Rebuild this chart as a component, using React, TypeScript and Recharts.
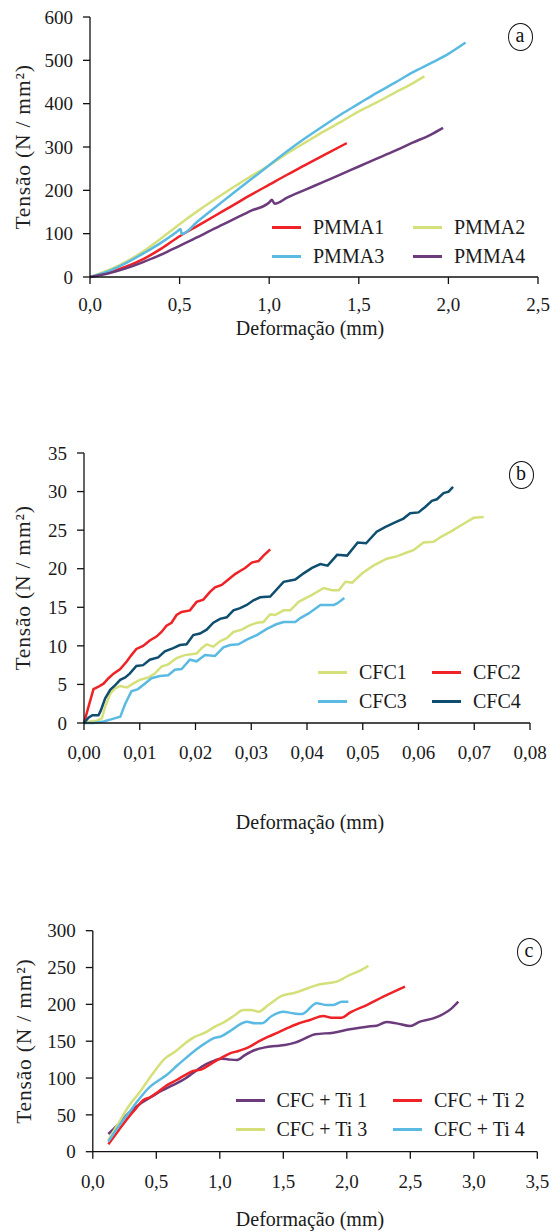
import React from 'react';
import { LineChart, Line, XAxis, YAxis, Legend, Label } from 'recharts';

// ---------- Chart (a) data ----------
const PMMA1 = [
  { x: 0, y: 0 }, { x: 0.1, y: 10 }, { x: 0.2, y: 24 }, { x: 0.3, y: 42 }, { x: 0.4, y: 66 },
  { x: 0.5, y: 94 }, { x: 0.6, y: 118 }, { x: 0.7, y: 142 }, { x: 0.8, y: 166 }, { x: 0.9, y: 190 },
  { x: 1.0, y: 213 }, { x: 1.1, y: 236 }, { x: 1.2, y: 258 }, { x: 1.3, y: 280 }, { x: 1.433, y: 309 },
];
const PMMA2 = [
  { x: 0, y: 0 }, { x: 0.1, y: 15 }, { x: 0.2, y: 35 }, { x: 0.3, y: 60 }, { x: 0.4, y: 90 },
  { x: 0.5, y: 122 }, { x: 0.6, y: 152 }, { x: 0.7, y: 180 }, { x: 0.8, y: 207 }, { x: 0.9, y: 233 },
  { x: 1.0, y: 258 }, { x: 1.1, y: 285 }, { x: 1.2, y: 310 }, { x: 1.3, y: 335 }, { x: 1.4, y: 358 },
  { x: 1.5, y: 382 }, { x: 1.6, y: 403 }, { x: 1.7, y: 425 }, { x: 1.8, y: 447 }, { x: 1.866, y: 463 },
];
const PMMA3 = [
  { x: 0, y: 0 }, { x: 0.1, y: 13 }, { x: 0.2, y: 32 }, { x: 0.3, y: 55 }, { x: 0.4, y: 80 },
  { x: 0.49, y: 106 }, { x: 0.505, y: 111 }, { x: 0.512, y: 99 }, { x: 0.6, y: 128 }, { x: 0.7, y: 161 },
  { x: 0.8, y: 194 }, { x: 0.9, y: 226 }, { x: 1.0, y: 258 }, { x: 1.1, y: 290 }, { x: 1.2, y: 320 },
  { x: 1.3, y: 348 }, { x: 1.4, y: 375 }, { x: 1.5, y: 400 }, { x: 1.6, y: 425 }, { x: 1.7, y: 448 },
  { x: 1.8, y: 472 }, { x: 1.9, y: 493 }, { x: 2.0, y: 515 }, { x: 2.096, y: 541 },
];
const PMMA4 = [
  { x: 0, y: 0 }, { x: 0.1, y: 8 }, { x: 0.2, y: 20 }, { x: 0.3, y: 35 }, { x: 0.4, y: 52 },
  { x: 0.5, y: 72 }, { x: 0.6, y: 92 }, { x: 0.7, y: 113 }, { x: 0.8, y: 133 }, { x: 0.9, y: 153 },
  { x: 1.0, y: 172 }, { x: 1.015, y: 178 }, { x: 1.03, y: 169 }, { x: 1.1, y: 183 }, { x: 1.2, y: 201 },
  { x: 1.3, y: 219 }, { x: 1.4, y: 237 }, { x: 1.5, y: 255 }, { x: 1.6, y: 273 }, { x: 1.7, y: 291 },
  { x: 1.8, y: 310 }, { x: 1.9, y: 328 }, { x: 1.97, y: 344 },
];
const TICKS_A_X = [0, 0.5, 1.0, 1.5, 2.0, 2.5];
const TICKS_A_Y = [0, 100, 200, 300, 400, 500, 600];

// ---------- Chart (b) data (x in mm) ----------
const CFC1 = [
  { x: 0, y: 0 }, { x: 0.0011, y: 0.2 }, { x: 0.0023, y: 0.3 }, { x: 0.0032, y: 0.6 }, { x: 0.0038, y: 2.1 },
  { x: 0.0047, y: 3.8 }, { x: 0.0056, y: 4.5 }, { x: 0.0065, y: 4.8 }, { x: 0.0077, y: 4.6 }, { x: 0.0088, y: 5.1 },
  { x: 0.0100, y: 5.6 }, { x: 0.0115, y: 5.9 }, { x: 0.0127, y: 6.4 }, { x: 0.0139, y: 7.3 }, { x: 0.0151, y: 7.6 },
  { x: 0.0166, y: 8.4 }, { x: 0.0181, y: 8.8 }, { x: 0.0202, y: 9.0 }, { x: 0.0211, y: 9.7 }, { x: 0.0220, y: 10.2 },
  { x: 0.0232, y: 9.9 }, { x: 0.0244, y: 10.6 }, { x: 0.0256, y: 11.0 }, { x: 0.0268, y: 11.8 }, { x: 0.0283, y: 12.1 },
  { x: 0.0295, y: 12.6 }, { x: 0.0310, y: 13.0 }, { x: 0.0322, y: 13.1 }, { x: 0.0334, y: 14.1 }, { x: 0.0343, y: 14.0 },
  { x: 0.0358, y: 14.6 }, { x: 0.0370, y: 14.6 }, { x: 0.0385, y: 15.7 }, { x: 0.0409, y: 16.6 }, { x: 0.0430, y: 17.5 },
  { x: 0.0445, y: 17.2 }, { x: 0.0457, y: 17.2 }, { x: 0.0469, y: 18.3 }, { x: 0.0481, y: 18.2 }, { x: 0.0499, y: 19.4 },
  { x: 0.0519, y: 20.4 }, { x: 0.0543, y: 21.3 }, { x: 0.0561, y: 21.6 }, { x: 0.0579, y: 22.1 }, { x: 0.0591, y: 22.4 },
  { x: 0.0609, y: 23.4 }, { x: 0.0627, y: 23.5 }, { x: 0.0642, y: 24.2 }, { x: 0.0660, y: 24.9 }, { x: 0.0678, y: 25.7 },
  { x: 0.0699, y: 26.6 }, { x: 0.0717, y: 26.7 },
];
const CFC2 = [
  { x: 0, y: 0 }, { x: 0.0008, y: 2.1 }, { x: 0.0017, y: 4.4 }, { x: 0.0026, y: 4.7 }, { x: 0.0035, y: 5.1 },
  { x: 0.0044, y: 5.8 }, { x: 0.0053, y: 6.4 }, { x: 0.0065, y: 7.0 }, { x: 0.0077, y: 8.0 }, { x: 0.0085, y: 8.8 },
  { x: 0.0094, y: 9.6 }, { x: 0.0106, y: 10.0 }, { x: 0.0118, y: 10.7 }, { x: 0.0130, y: 11.2 }, { x: 0.0139, y: 11.8 },
  { x: 0.0148, y: 12.6 }, { x: 0.0157, y: 13.0 }, { x: 0.0166, y: 14.0 }, { x: 0.0175, y: 14.4 }, { x: 0.0190, y: 14.6 },
  { x: 0.0202, y: 15.7 }, { x: 0.0214, y: 16.0 }, { x: 0.0226, y: 17.0 }, { x: 0.0235, y: 17.6 }, { x: 0.0247, y: 17.9 },
  { x: 0.0259, y: 18.6 }, { x: 0.0271, y: 19.3 }, { x: 0.0280, y: 19.7 }, { x: 0.0289, y: 20.1 }, { x: 0.0301, y: 20.8 },
  { x: 0.0313, y: 21.0 }, { x: 0.0322, y: 21.7 }, { x: 0.0334, y: 22.5 },
];
const CFC3 = [
  { x: 0, y: 0 }, { x: 0.0017, y: 0.0 }, { x: 0.0035, y: 0.2 }, { x: 0.0050, y: 0.5 }, { x: 0.0065, y: 0.8 },
  { x: 0.0074, y: 2.5 }, { x: 0.0085, y: 4.1 }, { x: 0.0097, y: 4.4 }, { x: 0.0109, y: 5.1 }, { x: 0.0121, y: 5.8 },
  { x: 0.0136, y: 6.1 }, { x: 0.0151, y: 6.2 }, { x: 0.0163, y: 6.9 }, { x: 0.0175, y: 7.0 }, { x: 0.0190, y: 8.2 },
  { x: 0.0202, y: 8.0 }, { x: 0.0217, y: 8.8 }, { x: 0.0235, y: 8.7 }, { x: 0.0250, y: 9.8 }, { x: 0.0262, y: 10.1 },
  { x: 0.0277, y: 10.2 }, { x: 0.0292, y: 10.8 }, { x: 0.0310, y: 11.4 }, { x: 0.0328, y: 12.2 }, { x: 0.0345, y: 12.8 },
  { x: 0.0358, y: 13.1 }, { x: 0.0379, y: 13.1 }, { x: 0.0388, y: 13.6 }, { x: 0.0403, y: 14.2 }, { x: 0.0424, y: 15.3 },
  { x: 0.0448, y: 15.3 }, { x: 0.0454, y: 15.5 }, { x: 0.0467, y: 16.2 },
];
const CFC4 = [
  { x: 0, y: 0 }, { x: 0.0008, y: 0.7 }, { x: 0.0015, y: 1.0 }, { x: 0.0026, y: 1.0 }, { x: 0.0030, y: 1.6 },
  { x: 0.0038, y: 3.2 }, { x: 0.0047, y: 4.3 }, { x: 0.0056, y: 4.9 }, { x: 0.0065, y: 5.6 }, { x: 0.0074, y: 5.9 },
  { x: 0.0082, y: 6.4 }, { x: 0.0094, y: 7.4 }, { x: 0.0106, y: 7.5 }, { x: 0.0118, y: 8.2 }, { x: 0.0133, y: 8.5 },
  { x: 0.0145, y: 9.3 }, { x: 0.0160, y: 9.7 }, { x: 0.0172, y: 10.1 }, { x: 0.0184, y: 10.2 }, { x: 0.0196, y: 11.4 },
  { x: 0.0208, y: 11.6 }, { x: 0.0220, y: 12.1 }, { x: 0.0232, y: 13.0 }, { x: 0.0244, y: 13.5 }, { x: 0.0256, y: 13.7 },
  { x: 0.0268, y: 14.6 }, { x: 0.0280, y: 14.9 }, { x: 0.0292, y: 15.3 }, { x: 0.0304, y: 15.9 }, { x: 0.0316, y: 16.3 },
  { x: 0.0334, y: 16.4 }, { x: 0.0358, y: 18.3 }, { x: 0.0379, y: 18.6 }, { x: 0.0394, y: 19.4 }, { x: 0.0409, y: 20.1 },
  { x: 0.0424, y: 20.6 }, { x: 0.0437, y: 20.4 }, { x: 0.0454, y: 21.8 }, { x: 0.0472, y: 21.7 }, { x: 0.0491, y: 23.4 },
  { x: 0.0506, y: 23.3 }, { x: 0.0525, y: 24.8 }, { x: 0.0540, y: 25.4 }, { x: 0.0558, y: 26.0 }, { x: 0.0573, y: 26.5 },
  { x: 0.0585, y: 27.2 }, { x: 0.0600, y: 27.3 }, { x: 0.0612, y: 28.0 }, { x: 0.0624, y: 28.8 }, { x: 0.0633, y: 29.0 },
  { x: 0.0645, y: 29.8 }, { x: 0.0654, y: 30.0 }, { x: 0.0662, y: 30.6 },
];
const TICKS_B_X = [0, 0.01, 0.02, 0.03, 0.04, 0.05, 0.06, 0.07, 0.08];
const TICKS_B_Y = [0, 5, 10, 15, 20, 25, 30, 35];

// ---------- Chart (c) data ----------
const TI1 = [
  { x: 0.122, y: 24 }, { x: 0.188, y: 35 }, { x: 0.254, y: 47.5 }, { x: 0.319, y: 58 }, { x: 0.385, y: 66.5 },
  { x: 0.464, y: 74.7 }, { x: 0.542, y: 82.8 }, { x: 0.621, y: 89.6 }, { x: 0.700, y: 96.4 }, { x: 0.778, y: 105.4 },
  { x: 0.857, y: 115.4 }, { x: 0.936, y: 122.2 }, { x: 1.015, y: 126.2 }, { x: 1.067, y: 125.3 }, { x: 1.133, y: 124.4 },
  { x: 1.198, y: 131.2 }, { x: 1.277, y: 138 }, { x: 1.356, y: 141.6 }, { x: 1.435, y: 143.4 }, { x: 1.513, y: 144.8 },
  { x: 1.592, y: 148 }, { x: 1.671, y: 153.8 }, { x: 1.750, y: 159.3 }, { x: 1.894, y: 161.6 }, { x: 2.025, y: 166.1 },
  { x: 2.157, y: 169.7 }, { x: 2.235, y: 171 }, { x: 2.314, y: 176 }, { x: 2.393, y: 174.2 }, { x: 2.498, y: 170.6 },
  { x: 2.576, y: 176.5 }, { x: 2.681, y: 181 }, { x: 2.760, y: 186.9 }, { x: 2.826, y: 194.6 }, { x: 2.878, y: 203.6 },
];
const TI2 = [
  { x: 0.122, y: 10 }, { x: 0.201, y: 28.5 }, { x: 0.280, y: 46.6 }, { x: 0.345, y: 59.7 }, { x: 0.398, y: 70.1 },
  { x: 0.450, y: 73.8 }, { x: 0.516, y: 81.4 }, { x: 0.594, y: 91.4 }, { x: 0.660, y: 97.3 }, { x: 0.726, y: 104 },
  { x: 0.791, y: 109.5 }, { x: 0.857, y: 111.8 }, { x: 0.936, y: 119.9 }, { x: 1.015, y: 127.6 }, { x: 1.080, y: 133.5 },
  { x: 1.146, y: 136.7 }, { x: 1.225, y: 141.6 }, { x: 1.303, y: 149.3 }, { x: 1.382, y: 156.1 }, { x: 1.461, y: 162 },
  { x: 1.540, y: 168.3 }, { x: 1.619, y: 174 }, { x: 1.710, y: 178.8 }, { x: 1.815, y: 184.2 }, { x: 1.881, y: 181.9 },
  { x: 1.960, y: 181.9 }, { x: 2.025, y: 188.7 }, { x: 2.157, y: 199.1 }, { x: 2.288, y: 210.4 }, { x: 2.458, y: 224 },
];
const TI3 = [
  { x: 0.122, y: 15.8 }, { x: 0.201, y: 38.5 }, { x: 0.280, y: 61.1 }, { x: 0.372, y: 81.4 }, { x: 0.464, y: 104 },
  { x: 0.569, y: 126.7 }, { x: 0.647, y: 135.7 }, { x: 0.726, y: 147 }, { x: 0.805, y: 156.1 }, { x: 0.883, y: 161.5 },
  { x: 0.962, y: 169.7 }, { x: 1.041, y: 176.5 }, { x: 1.120, y: 185.5 }, { x: 1.185, y: 192.3 }, { x: 1.251, y: 192.3 },
  { x: 1.304, y: 190 }, { x: 1.382, y: 199.1 }, { x: 1.487, y: 211.5 }, { x: 1.592, y: 215.8 }, { x: 1.789, y: 227.2 },
  { x: 1.920, y: 230.8 }, { x: 2.025, y: 240 }, { x: 2.104, y: 245.7 }, { x: 2.170, y: 252.5 },
];
const TI4 = [
  { x: 0.122, y: 13.6 }, { x: 0.201, y: 33.9 }, { x: 0.280, y: 52 }, { x: 0.359, y: 70.1 }, { x: 0.437, y: 86 },
  { x: 0.503, y: 95 }, { x: 0.581, y: 104 }, { x: 0.660, y: 116.3 }, { x: 0.739, y: 128 }, { x: 0.817, y: 139 },
  { x: 0.883, y: 147 }, { x: 0.949, y: 153.8 }, { x: 1.015, y: 157 }, { x: 1.093, y: 165.2 }, { x: 1.159, y: 172.9 },
  { x: 1.212, y: 176.5 }, { x: 1.277, y: 174.2 }, { x: 1.330, y: 174.2 }, { x: 1.409, y: 184.2 }, { x: 1.501, y: 190 },
  { x: 1.580, y: 187.8 }, { x: 1.646, y: 186.9 }, { x: 1.763, y: 201.5 }, { x: 1.842, y: 199.1 }, { x: 1.894, y: 199.1 },
  { x: 1.960, y: 203.6 }, { x: 2.012, y: 203.6 },
];
const TICKS_C_X = [0, 0.5, 1.0, 1.5, 2.0, 2.5, 3.0, 3.5];
const TICKS_C_Y = [0, 50, 100, 150, 200, 250, 300];

const LEGEND_A = ['PMMA1', 'PMMA2', 'PMMA3', 'PMMA4'];
const LEGEND_B = ['CFC1', 'CFC2', 'CFC3', 'CFC4'];
const LEGEND_C = ['CFC + Ti 1', 'CFC + Ti 2', 'CFC + Ti 3', 'CFC + Ti 4'];

const X_TITLE = 'Deformação (mm)';
const Y_TITLE = 'Tensão (N / mm²)';

// ---------- styling ----------
const FONT = 'Liberation Serif, serif';
const RED = '#EE2227';
const LIME = '#D5E07A';
const SKY = '#5BBAE2';
const PURPLE = '#6B3B7C';
const NAVY = '#0F4E6E';

const COLORS_A = [RED, LIME, SKY, PURPLE];
const COLORS_B = [LIME, RED, SKY, NAVY];
const COLORS_C = [PURPLE, RED, LIME, SKY];

const tickStyle = { fontFamily: FONT, fontSize: 19, fill: '#1a1a1a', style: { fontFamily: FONT } };
const axisLine = { stroke: '#111', strokeWidth: 1.3 };

const fmt = (d: number) => (v: number) => v.toFixed(d).replace('.', ',');

const makeYTitle = (x: number) => (props: any) => {
  const vb = props.viewBox || {};
  const cy = vb.y + vb.height / 2;
  return (
    <text x={x} y={cy} transform={`rotate(-90 ${x} ${cy})`} textAnchor="middle" dominantBaseline="central"
      fontFamily={FONT} style={{ fontFamily: FONT }} fontSize={21.5} fill="#222" letterSpacing={0.8}>
      {Y_TITLE}
    </text>
  );
};

const makeXTitle = (cx: number, dy: number) => (props: any) => {
  const vb = props.viewBox || {};
  return (
    <text x={cx} y={vb.y + dy} textAnchor="middle" fontFamily={FONT} style={{ fontFamily: FONT }} fontSize={20} fill="#1a1a1a">
      {X_TITLE}
    </text>
  );
};

const makeLegend = (names: string[], colors: string[], colW: number) => () => (
  <div style={{ display: 'grid', gridTemplateColumns: `${colW}px ${colW}px`, fontFamily: FONT, fontSize: 20, color: '#1a1a1a' }}>
    {names.map((n, i) => (
      <div key={n} style={{ display: 'flex', alignItems: 'center', height: 29, whiteSpace: 'nowrap' }}>
        <span style={{ display: 'inline-block', width: 29, height: 3, background: colors[i], marginRight: 12 }} />
        <span>{n}</span>
      </div>
    ))}
  </div>
);

const Badge = ({ letter, cx, cy }: { letter: string; cx: number; cy: number }) => (
  <div style={{
    position: 'absolute', left: cx - 12.5, top: cy - 12.5, width: 23, height: 23, borderRadius: '50%',
    border: '1.2px solid #111', display: 'flex', alignItems: 'center', justifyContent: 'center',
    fontFamily: FONT, fontSize: 20, lineHeight: '20px', color: '#111', paddingBottom: 3, boxSizing: 'content-box',
  }}>{letter}</div>
);

const axisCommon = { tick: tickStyle, axisLine, tickLine: axisLine, tickSize: 7, interval: 0 as const };

export default function App() {
  return (
    <div style={{ position: 'absolute', left: 0, top: 0, width: 551, height: 1231, background: '#fff', overflow: 'hidden', fontFamily: FONT }}>
      {/* Chart (a) */}
      <div style={{ position: 'absolute', left: 0, top: 0 }}>
        <LineChart width={551} height={400} margin={{ top: 17, right: 13, left: 30, bottom: 63 }}>
          <XAxis type="number" dataKey="x" domain={[0, 2.5]} ticks={TICKS_A_X} tickFormatter={fmt(1)}
            {...axisCommon} tickMargin={14} height={60}>
            <Label content={makeXTitle(310, 58)} />
          </XAxis>
          <YAxis type="number" domain={[0, 600]} ticks={TICKS_A_Y} {...axisCommon} tickMargin={10} width={60}>
            <Label content={makeYTitle(23)} />
          </YAxis>
          <Legend layout="vertical" align="center" verticalAlign="middle" content={makeLegend(LEGEND_A, COLORS_A, 141)}
            wrapperStyle={{ left: 272, top: 212.5, width: 282, height: 58 }} />
          <Line data={PMMA1} dataKey="y" type="monotone" stroke={RED} strokeWidth={2.5} dot={false} isAnimationActive={false} />
          <Line data={PMMA2} dataKey="y" type="monotone" stroke={LIME} strokeWidth={2.5} dot={false} isAnimationActive={false} />
          <Line data={PMMA3} dataKey="y" type="monotone" stroke={SKY} strokeWidth={2.5} dot={false} isAnimationActive={false} />
          <Line data={PMMA4} dataKey="y" type="monotone" stroke={PURPLE} strokeWidth={2.5} dot={false} isAnimationActive={false} />
        </LineChart>
        <Badge letter="a" cx={520} cy={35} />
      </div>

      {/* Chart (b) */}
      <div style={{ position: 'absolute', left: 0, top: 410 }}>
        <LineChart width={551} height={430} margin={{ top: 43, right: 21, left: 24, bottom: 57 }}>
          <XAxis type="number" dataKey="x" domain={[0, 0.08]} ticks={TICKS_B_X} tickFormatter={fmt(2)}
            {...axisCommon} tickMargin={16} height={60}>
            <Label content={makeXTitle(310, 106)} />
          </XAxis>
          <YAxis type="number" domain={[0, 35]} ticks={TICKS_B_Y} {...axisCommon} tickMargin={10} width={60}>
            <Label content={makeYTitle(23)} />
          </YAxis>
          <Legend layout="vertical" align="center" verticalAlign="middle" content={makeLegend(LEGEND_B, COLORS_B, 114)}
            wrapperStyle={{ left: 318, top: 248.2, width: 228, height: 58 }} />
          <Line data={CFC1} dataKey="y" type="linear" stroke={LIME} strokeWidth={2.5} dot={false} isAnimationActive={false} />
          <Line data={CFC2} dataKey="y" type="linear" stroke={RED} strokeWidth={2.5} dot={false} isAnimationActive={false} />
          <Line data={CFC3} dataKey="y" type="linear" stroke={SKY} strokeWidth={2.5} dot={false} isAnimationActive={false} />
          <Line data={CFC4} dataKey="y" type="linear" stroke={NAVY} strokeWidth={2.5} dot={false} isAnimationActive={false} />
        </LineChart>
        <Badge letter="b" cx={521} cy={63} />
      </div>

      {/* Chart (c) */}
      <div style={{ position: 'absolute', left: 0, top: 915 }}>
        <LineChart width={551} height={316} margin={{ top: 15.7, right: 13.7, left: 32.8, bottom: 19.3 }}>
          <XAxis type="number" dataKey="x" domain={[0, 3.5]} ticks={TICKS_C_X} tickFormatter={fmt(1)}
            {...axisCommon} tickMargin={16} height={60}>
            <Label content={makeXTitle(310, 74)} />
          </XAxis>
          <YAxis type="number" domain={[0, 300]} ticks={TICKS_C_Y} {...axisCommon} tickMargin={10} width={60}>
            <Label content={makeYTitle(24)} />
          </YAxis>
          <Legend layout="vertical" align="center" verticalAlign="middle" content={makeLegend(LEGEND_C, COLORS_C, 157.5)}
            wrapperStyle={{ left: 235.5, top: 170.5, width: 315, height: 58 }} />
          <Line data={TI1} dataKey="y" type="monotone" stroke={PURPLE} strokeWidth={2.5} dot={false} isAnimationActive={false} />
          <Line data={TI2} dataKey="y" type="monotone" stroke={RED} strokeWidth={2.5} dot={false} isAnimationActive={false} />
          <Line data={TI3} dataKey="y" type="monotone" stroke={LIME} strokeWidth={2.5} dot={false} isAnimationActive={false} />
          <Line data={TI4} dataKey="y" type="monotone" stroke={SKY} strokeWidth={2.5} dot={false} isAnimationActive={false} />
        </LineChart>
        <Badge letter="c" cx={529} cy={35} />
      </div>
    </div>
  );
}
